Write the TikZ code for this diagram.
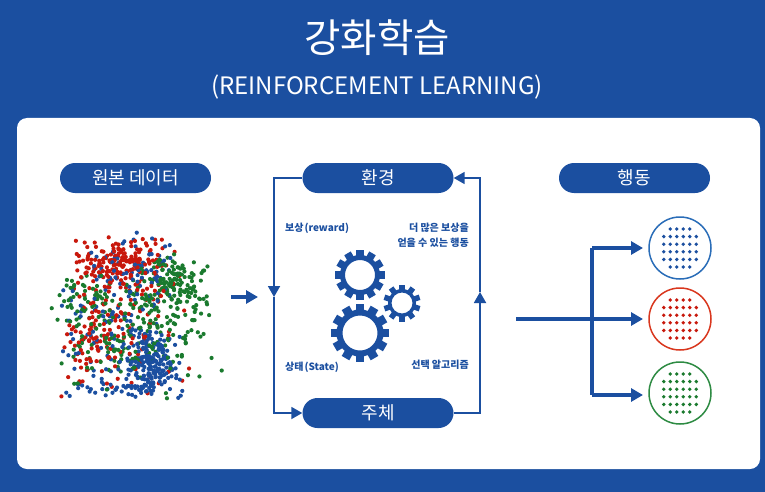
\documentclass[tikz,border=0pt]{standalone}
\usepackage{fontspec}
\setmainfont{Noto Sans CJK KR}
\usetikzlibrary{arrows.meta,calc}
\definecolor{mainblue}{HTML}{1B4FA0}
\definecolor{ringblue}{HTML}{2A6DB8}
\definecolor{ringred}{HTML}{D9371E}
\definecolor{ringgreen}{HTML}{2E8B43}
\definecolor{dotred}{HTML}{C8180C}
\definecolor{dotgreen}{HTML}{1A7A2E}
\tikzset{
  pill/.style={fill=mainblue,rounded corners=15pt,minimum width=151pt,minimum height=30pt,inner sep=0pt,text=white,text height=15pt,text depth=2pt,font=\fontsize{18}{20}\selectfont},
  note/.style={text=mainblue,inner sep=0pt,align=right,font=\bfseries\fontsize{10}{15}\selectfont},
  looplink/.style={draw=mainblue,line width=1.8pt},
  thicklink/.style={draw=mainblue,line width=3.6pt},
  looptip/.style={-{Triangle[length=11pt,width=12pt]}},
  thicktip/.style={-{Triangle[length=12pt,width=13pt,inset=0pt]}},
  ring/.style={circle,draw=#1,fill=white,line width=1.5pt,minimum size=62pt,inner sep=0pt}
}
% one gear: centre, outer radius, root radius, hole radius, teeth
\newcommand{\geardraw}[5]{
  \foreach \t in {1,...,#5}{
    \fill[mainblue,rotate around={360/#5*\t:(#1)}] ($(#1)+(-#2*0.15,-#3+1)$) rectangle ($(#1)+(#2*0.15,-#2)$);
  }
  \fill[mainblue,even odd rule] (#1) circle (#3) (#1) circle (#4);
}
% the dots of a ring, row by row
\newcommand{\ringdots}[2]{
  \foreach \r/\cnt in {-2.5/4,-1.5/6,-0.5/6,0.5/6,1.5/6,2.5/4}{
    \foreach \c in {1,...,\cnt}{
      \fill[#2] ($(#1)+({(\c-(\cnt+1)/2)*6.5},{\r*7.6})$) circle (1.9);
    }
  }
}
\begin{document}
\begin{tikzpicture}[x=1pt,y=-1pt]
    \useasboundingbox (0,0) rectangle (765,492);
    \fill[mainblue] (0,0) rectangle (765,492);
    \fill[white,rounded corners=10pt] (17,118) rectangle (760,469);

    \node[text=white,font=\fontsize{39.5}{42}\selectfont] (title) at (377,38) {강화학습};
    \node[text=white,font=\fontsize{24}{26}\selectfont] (subtitle) at (377,87) {(REINFORCEMENT LEARNING)};

    \node[pill] (datapill) at (135.5,178) {원본 데이터};
    \node[pill] (envpill) at (378,178) {환경};
    \node[pill] (agentpill) at (378,413) {주체};
    \node[pill] (actionpill) at (634.5,178) {행동};

    % point cloud
    \pgfmathsetseed{4127}
    \foreach \round in {1,...,55}{
      \foreach \dotcol/\cnt/\cx/\cy/\rx/\ry in {
        dotred/3/122/264/34/20, dotred/1/92/340/22/38, dotred/2/125/320/48/62,
        dotgreen/3/170/287/30/24, dotgreen/1/84/300/26/20, dotgreen/1/125/318/52/28, dotgreen/1/112/350/36/32, dotgreen/1/170/345/42/42,
        mainblue/3/152/362/20/24, mainblue/1/125/387/46/10, mainblue/2/115/320/44/58, mainblue/1/140/265/36/24}{
        \foreach \n in {1,...,\cnt}{
          \pgfmathsetmacro\dotx{\cx+\rx*(rand+rand)*0.72}
          \pgfmathsetmacro\doty{\cy+\ry*(rand+rand)*0.72}
          \fill[\dotcol] (\dotx,\doty) circle (2.1);
        }
      }
    }

    % feedback loop
    \coordinate (leftmid) at (274,297);
    \coordinate (rightmid) at (480,292);
    \draw[looplink,looptip] (envpill.west) -| (leftmid);
    \draw[looplink,looptip] (leftmid) |- (agentpill.west);
    \draw[looplink,looptip] (agentpill.east) -| (rightmid);
    \draw[looplink,looptip] (rightmid) |- (envpill.east);

    \node[note,anchor=west] (reward) at (285,228) {보상\kern1pt(reward)};
    \node[note,anchor=east] (more) at (469,235.5) {더 많은 보상을\\얻을 수 있는 행동};
    \node[note,anchor=west] (state) at (285,367) {상태\kern1pt(State)};
    \node[note,anchor=east] (algo) at (469,365) {선택 알고리즘};

    \coordinate (gearone) at (360,275);
    \coordinate (geartwo) at (402,303);
    \coordinate (gearthree) at (360,333);
    \geardraw{gearone}{25}{20}{15}{12}
    \geardraw{geartwo}{18.5}{14}{10.5}{10}
    \geardraw{gearthree}{29}{23.5}{17.5}{12}

    % input arrow
    \coordinate (cloudout) at (231,297);
    \coordinate (loopin) at (258,297);
    \draw[thicklink,thicktip] (cloudout) -- (loopin);

    % output rings
    \node[ring=ringblue] (ringa) at (680,248) {};
    \node[ring=ringred] (ringb) at (680,319) {};
    \node[ring=ringgreen] (ringc) at (680,393) {};
    \ringdots{ringa}{mainblue}
    \ringdots{ringb}{dotred}
    \ringdots{ringc}{dotgreen}

    \coordinate (treein) at (516,319);
    \coordinate (treetop) at (592,248);
    \coordinate (treelow) at (592,395);
    \coordinate (tipa) at (643,248);
    \coordinate (tipb) at (643,319);
    \coordinate (tipc) at (643,395);
    \draw[thicklink] (treetop) -- (treelow);
    \draw[thicklink,thicktip] (treein) -- (tipb);
    \draw[thicklink,thicktip] (treetop) -- (tipa);
    \draw[thicklink,thicktip] (treelow) -- (tipc);
\end{tikzpicture}
\end{document}
